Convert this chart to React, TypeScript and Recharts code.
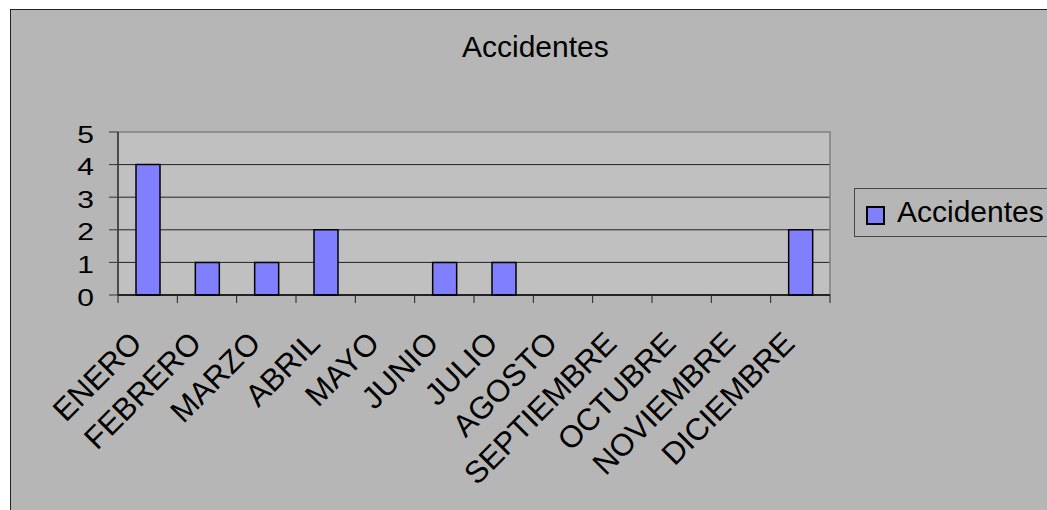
import React from 'react';
import { BarChart, Bar, XAxis, YAxis, CartesianGrid, Legend, ReferenceArea } from 'recharts';

const months = [
  'ENERO', 'FEBRERO', 'MARZO', 'ABRIL', 'MAYO', 'JUNIO',
  'JULIO', 'AGOSTO', 'SEPTIEMBRE', 'OCTUBRE', 'NOVIEMBRE', 'DICIEMBRE',
];
const accidents = [4, 1, 1, 2, 0, 1, 1, 0, 0, 0, 0, 2];
const yTicks = [0, 1, 2, 3, 4, 5];

const data = months.map((name, i) => ({ name, accidentes: accidents[i] }));

const FONT = '"Liberation Sans", Arial, sans-serif';

// category labels tilted 45deg, plus Excel-style ticks between categories
const XTick = (props: any) => {
  const { x, y, payload, index } = props;
  const half = payload && payload.offset ? payload.offset : 29.67;
  const last = index === months.length - 1;
  const lx = x - 4;
  const ly = y + 50;
  return (
    <g>
      <line x1={x - half} x2={x - half} y1={y} y2={y + 8} stroke="#222" strokeWidth={1} />
      {last && <line x1={x + half} x2={x + half} y1={y} y2={y + 8} stroke="#222" strokeWidth={1} />}
      <text
        x={lx}
        y={ly}
        textAnchor="end"
        fontSize={31}
        fontFamily={FONT}
        fill="#000"
        transform={`rotate(-45, ${lx}, ${ly})`}
      >
        {payload.value}
      </text>
    </g>
  );
};

const YTick = (props: any) => {
  const { x, y, payload } = props;
  return (
    <g transform={`translate(${x},${y + 2}) scale(1.25,1)`}>
      <text x={0} y={0} dy="0.355em" textAnchor="end" fontSize={24} fontFamily={FONT} fill="#000">
        {payload.value}
      </text>
    </g>
  );
};

const LegendBox = () => (
  <div
    style={{
      width: 230,
      height: 47,
      border: '1px solid #444',
      position: 'relative',
      fontFamily: FONT,
    }}
  >
    <div
      style={{
        position: 'absolute',
        left: 11,
        top: 17,
        width: 15,
        height: 15,
        background: '#8080ff',
        border: '2px solid #000',
      }}
    />
    <div
      style={{
        position: 'absolute',
        left: 42,
        top: 8,
        fontSize: 30,
        lineHeight: '29px',
        color: '#000',
        whiteSpace: 'nowrap',
      }}
    >
      Accidentes
    </div>
  </div>
);

export default function App() {
  return (
    <div style={{ position: 'fixed', left: 0, top: 0, width: 1047, height: 510, overflow: 'hidden', background: '#fff' }}>
      <div
        style={{
          position: 'absolute',
          left: 10,
          top: 9,
          width: 1100,
          height: 600,
          background: '#b6b6b6',
          border: '1px solid #222',
        }}
      />
      <div
        style={{
          position: 'absolute',
          left: 462,
          top: 32,
          fontFamily: FONT,
          fontSize: 30,
          lineHeight: '29px',
          color: '#000',
          whiteSpace: 'nowrap',
        }}
      >
        Accidentes
      </div>
      <div style={{ position: 'absolute', left: 0, top: 0 }}>
        <BarChart
          width={1047}
          height={510}
          data={data}
          margin={{ top: 132, right: 217, bottom: 95, left: 58 }}
          barSize={24}
        >
          <CartesianGrid
            fill="#c0c0c0"
            vertical={false}
            stroke="#222"
            strokeOpacity={1}
            horizontalValues={[1, 2, 3, 4]}
          />
          <ReferenceArea y1={0} y2={5} fill="none" stroke="#808080" strokeWidth={1.5} ifOverflow="visible" />
          <XAxis
            dataKey="name"
            interval={0}
            height={120}
            tickSize={0}
            tickMargin={0}
            tickLine={false}
            axisLine={{ stroke: '#000', strokeWidth: 1.5 }}
            tick={<XTick />}
          />
          <YAxis
            domain={[0, 5]}
            ticks={yTicks}
            width={60}
            tickSize={9}
            tickMargin={15}
            axisLine={{ stroke: '#333', strokeWidth: 1.5 }}
            tickLine={{ stroke: '#333', strokeWidth: 1 }}
            tick={<YTick />}
          />
          <Legend
            layout="vertical"
            align="center"
            verticalAlign="middle"
            wrapperStyle={{ position: 'absolute', left: 854, top: 188, width: 230 }}
            content={() => <LegendBox />}
          />
          <Bar
            dataKey="accidentes"
            name="Accidentes"
            fill="#8080ff"
            stroke="#000"
            strokeWidth={1.5}
            isAnimationActive={false}
          />
        </BarChart>
      </div>
    </div>
  );
}
